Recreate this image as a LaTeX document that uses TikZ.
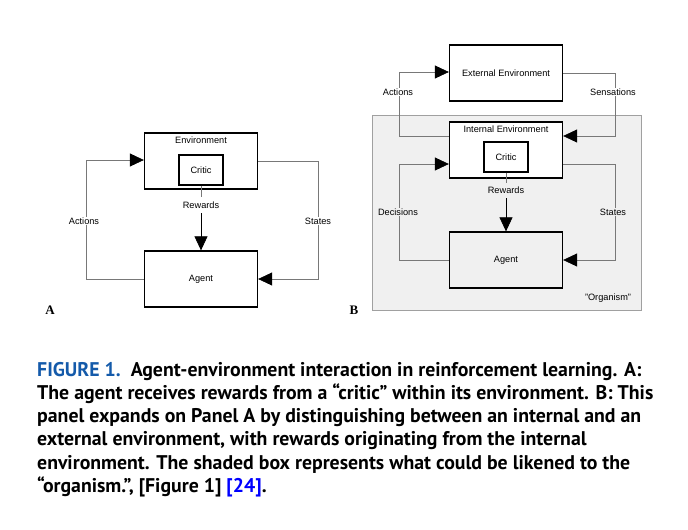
\documentclass[tikz,border=0pt]{standalone}
\usepackage{fontspec}
\setmainfont{Liberation Sans}
\newfontfamily\capfont{PT Sans}
\newfontfamily\serfont{Liberation Serif}
\usetikzlibrary{arrows.meta,positioning}
\definecolor{figblue}{RGB}{20,90,170}
\definecolor{loopgray}{RGB}{120,120,120}
\definecolor{organism}{RGB}{240,240,240}
\tikzset{
  box/.style={draw,line width=1.3pt,minimum width=113pt,minimum height=56pt,font=\fontsize{9.2}{10}\selectfont},
  critic/.style={draw,line width=1.3pt,minimum width=44pt,minimum height=30pt,font=\fontsize{9.2}{10}\selectfont},
  loop/.style={draw=loopgray,line width=0.7pt},
  tip/.style={-{Triangle[length=14pt,width=13pt,color=black]}},
  lbl/.style={font=\fontsize{9.2}{10}\selectfont,fill=white,inner sep=1pt},
  txt/.style={font=\fontsize{9.2}{10}\selectfont},
  panel/.style={font=\serfont\bfseries\fontsize{13}{13}\selectfont}
}
\begin{document}
\begin{tikzpicture}[x=1pt,y=-1pt]
  \useasboundingbox (0,0) rectangle (688,530);

  % panel A
  \node[box] (envA) at (201,161) {};
  \node[txt] at (201,140) {Environment};
  \node[critic] (criticA) at (201,170) {Critic};
  \node[box] (agentA) at (201,279) {Agent};
  \coordinate (aL1) at (86,160);  \coordinate (aL2) at (86,279);
  \coordinate (aR1) at (318,161); \coordinate (aR2) at (318,279);
  \draw[loop,tip] (agentA.west) -- (aL2) -- (aL1) -- (envA.west |- aL1);
  \draw[loop,tip] (envA.east) -- (aR1) -- (aR2) -- (agentA.east);
  \draw[loop] (criticA.south) -- (201,197);
  \draw[line width=0.7pt,tip] (201,213) -- (agentA.north);
  \node[lbl] at (84,221) {Actions};
  \node[lbl] at (318,221) {States};
  \node[txt] at (201,205) {Rewards};
  \node[panel] at (50,310) {A};

  % panel B
  \draw[loopgray!70,fill=organism] (372,115) rectangle (641,310);
  \node[box,fill=white] (extB) at (506,73) {External Environment};
  \node[box,fill=white] (intB) at (506,150) {};
  \node[txt] at (506,129) {Internal Environment};
  \node[critic] (criticB) at (506,157) {Critic};
  \node[box] (agentB) at (506,260) {Agent};
  \coordinate (bL1) at (399,72);  \coordinate (bL2) at (399,136);
  \coordinate (bR1) at (615,73);  \coordinate (bR2) at (615,136);
  \coordinate (bL3) at (399,164); \coordinate (bL4) at (399,260);
  \coordinate (bR3) at (615,164); \coordinate (bR4) at (615,260);
  \draw[loop,tip] (intB.west |- bL2) -- (bL2) -- (bL1) -- (extB.west |- bL1);
  \draw[loop,tip] (extB.east) -- (bR1) -- (bR2) -- (intB.east |- bR2);
  \draw[loop,tip] (agentB.west) -- (bL4) -- (bL3) -- (intB.west |- bL3);
  \draw[loop,tip] (intB.east |- bR3) -- (bR3) -- (bR4) -- (agentB.east);
  \draw[loop] (criticB.south) -- (506,183);
  \draw[line width=0.7pt,tip] (506,198) -- (agentB.north);
  \node[lbl] at (398,92) {Actions};
  \node[lbl] at (613,92) {Sensations};
  \node[lbl,fill=organism] at (398,212) {Decisions};
  \node[lbl,fill=organism] at (613,212) {States};
  \node[txt] at (506,190) {Rewards};
  \node[txt] at (608,298) {"Organism"};
  \node[panel] at (354,310) {B};

  % caption
  \node[anchor=north west,align=left,inner sep=0pt,
        font=\capfont\bfseries\fontsize{19.8}{23.2}\selectfont] (cap) at (37,362)
  {\textcolor{figblue}{FIGURE 1.}\ \ Agent-environment interaction in reinforcement learning. A:\\
   The agent receives rewards from a “critic” within its environment. B: This\\
   panel expands on Panel A by distinguishing between an internal and an\\
   external environment, with rewards originating from the internal\\
   environment. The shaded box represents what could be likened to the\\
   “organism.”, [Figure 1] \textcolor{blue}{[24]}.};
\end{tikzpicture}
\end{document}
